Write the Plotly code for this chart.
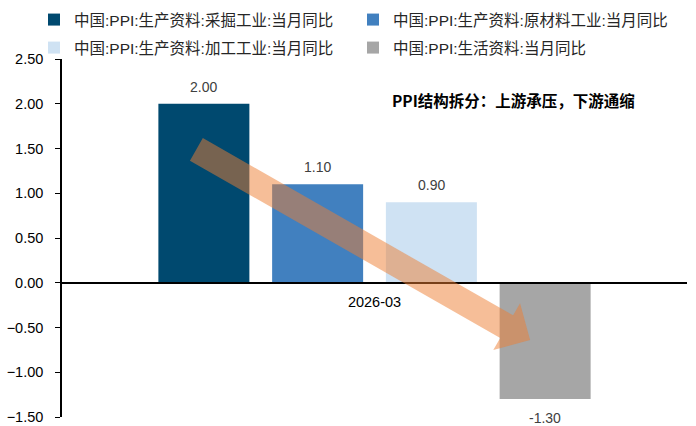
import plotly.graph_objects as go

# 2026-03 PPI breakdown, year-on-year (%)
months = ["2026-03"]
series_names = [
    "中国:PPI:生产资料:采掘工业:当月同比",
    "中国:PPI:生产资料:原材料工业:当月同比",
    "中国:PPI:生产资料:加工工业:当月同比",
    "中国:PPI:生活资料:当月同比",
]
series_values = [[2.00], [1.10], [0.90], [-1.30]]
series_colors = ["#00496F", "#4180BF", "#CFE2F3", "#A6A6A6"]

y_ticks = [-1.5, -1.0, -0.5, 0.0, 0.5, 1.0, 1.5, 2.0, 2.5]
headline = "PPI结构拆分：上游承压，下游通缩"

W, H = 696, 426
M_L, M_R, M_T, M_B = 62, 9, 59, 9
Y_MIN, Y_MAX = -1.5, 2.5
BARGAP, BARGROUPGAP = 0.272, 0.2

LATIN = "Liberation Sans, Arial, Noto Sans CJK SC"

plot_w = W - M_L - M_R
plot_h = H - M_T - M_B
px_per_unit = plot_h / (Y_MAX - Y_MIN)
slot_px = plot_w * (1 - BARGAP) / len(series_names)

# one small legend per entry, laid out as a 2 x 2 grid above the plot
legend_ids = ["legend", "legend2", "legend3", "legend4"]
legend_cols_px = [34, 353, 34, 353]
legend_rows_px = [3, 3, 31, 31]

fig = go.Figure()
for i, (name, vals, col, lg) in enumerate(zip(series_names, series_values, series_colors, legend_ids)):
    fig.add_trace(go.Bar(
        x=months, y=vals, name=name, legend=lg,
        marker=dict(color=col, line=dict(width=0)),
    ))
    # value labels, placed just beyond the end of each bar
    for m, v in zip(months, vals):
        fig.add_annotation(
            x=m, y=v, xref="x", yref="y", text=f"{v:.2f}", showarrow=False,
            xshift=(i - (len(series_names) - 1) / 2) * slot_px,
            yanchor="bottom" if v >= 0 else "top",
            yshift=7 if v >= 0 else -9,
            font=dict(family=LATIN, size=14, color="#404040"),
        )

# downward trend arrow (upstream -> downstream), drawn as one translucent polygon


def to_px(xp, yd):
    return M_L + xp * plot_w, M_T + (Y_MAX - yd) * px_per_unit


def to_ref(px, py):
    return (px - M_L) / plot_w, Y_MAX - (py - M_T) / px_per_unit


tail = to_px(0.215, 1.49)
tip = to_px(0.749, -0.64)
shaft_half, head_half, head_len = 13, 27, 27
dx, dy = tip[0] - tail[0], tip[1] - tail[1]
L = (dx * dx + dy * dy) ** 0.5
ux, uy = dx / L, dy / L
nx, ny = -uy, ux
bx, by = tip[0] - ux * head_len, tip[1] - uy * head_len
pts = [
    (tail[0] + nx * shaft_half, tail[1] + ny * shaft_half),
    (bx + nx * shaft_half, by + ny * shaft_half),
    (bx + nx * head_half, by + ny * head_half),
    tip,
    (bx - nx * head_half, by - ny * head_half),
    (bx - nx * shaft_half, by - ny * shaft_half),
    (tail[0] - nx * shaft_half, tail[1] - ny * shaft_half),
]
path = "M " + " L ".join(f"{to_ref(*p)[0]:.5f},{to_ref(*p)[1]:.5f}" for p in pts) + " Z"
fig.add_shape(type="path", path=path, xref="paper", yref="y",
              fillcolor="rgba(237,125,49,0.5)", line=dict(width=0), layer="above")

fig.add_annotation(
    text=f"<b>{headline}</b>", xref="paper", yref="y", x=0.7216, y=2.045,
    xanchor="center", yanchor="middle",
    showarrow=False, font=dict(family="Noto Sans CJK SC", size=15.5, color="#000000"),
)

zero_pos = (0 - Y_MIN) / (Y_MAX - Y_MIN)

legend_layout = {}
for lg, cx, ry in zip(legend_ids, legend_cols_px, legend_rows_px):
    legend_layout[lg] = dict(
        orientation="h", xref="container", yref="container",
        x=cx / W, y=1 - ry / H, xanchor="left", yanchor="top",
        font=dict(family=LATIN, size=15.5, color="#262626"),
        bgcolor="rgba(0,0,0,0)",
    )

fig.update_layout(
    width=W, height=H,
    margin=dict(l=M_L, r=M_R, t=M_T, b=M_B, autoexpand=False),
    plot_bgcolor="white", paper_bgcolor="white",
    barmode="group", bargap=BARGAP, bargroupgap=BARGROUPGAP,
    font=dict(family=LATIN, size=13, color="#000000"),
    showlegend=True,
    **legend_layout,
    xaxis=dict(
        type="category", anchor="free", position=zero_pos,
        showline=True, linecolor="#000000", linewidth=1.5,
        ticks="inside", tickson="boundaries", ticklen=4, tickcolor="#000000",
        showgrid=False, zeroline=False, ticklabelstandoff=6,
        tickfont=dict(family=LATIN, size=14.5, color="#000000"),
    ),
    yaxis=dict(
        range=[Y_MIN, Y_MAX], tickvals=y_ticks, tickformat=".2f",
        showline=True, linecolor="#000000", linewidth=1.5,
        ticks="outside", ticklen=5, tickcolor="#000000",
        showgrid=False, zeroline=False, ticklabelstandoff=9,
        tickfont=dict(family=LATIN, size=14.5, color="#000000"),
    ),
)

fig.write_html("out.html")
